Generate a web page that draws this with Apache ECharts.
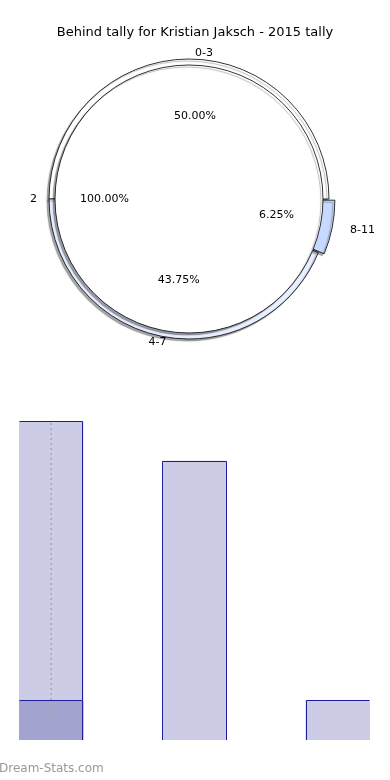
<!DOCTYPE html>
<html><head><meta charset="utf-8">
<script src="https://cdn.jsdelivr.net/npm/echarts@6/dist/echarts.min.js"></script>
<style>html,body{margin:0;padding:0;background:#fff}#c{width:390px;height:780px}</style>
</head><body><div id="c"></div>
<script>
// ---- data ----
const titleText = 'Behind tally for Kristian Jaksch - 2015 tally';
const innerNames = ['2'];
const innerValues = [16];
const ringNames = ['0-3', '4-7', '8-11'];
const ringValues = [8, 7, 1];
const explodedName = '8-11';
const barX = [0, 1, 2];          // category index of each bar (0-3, 4-7, 8-11)
const barValues = [8, 7, 1];
const overlayX = [0];
const overlayValues = [1];
const dottedX = [0, 0];
const dottedValues = [0, 8];
const watermarkText = 'Dream-Stats.com';

// ---- styles ----
const FONT = 'DejaVu Sans';
const ringColors = ['#ffffff', '#e6eeff', '#c6d9ff'];
const nameLineLength = { '0-3': 6, '4-7': 6, '8-11': 18 };
const barFill = '#ccccE6';
const overlayFill = '#a3a3d0';
const barEdge = '#1e1e9a';
const BAR_HALF = 0.225;
const X_MIN = -0.225, X_MAX = 2.225;
const pieShadow = { shadowColor: 'rgba(0,0,0,0.35)', shadowBlur: 1, shadowOffsetX: -2, shadowOffsetY: 2 };

const chart = echarts.init(document.getElementById('c'), null, { renderer: 'canvas' });

const pct = p => p.percent.toFixed(2) + '%';
const mk = (names, values, extra) => names.map((n, i) => Object.assign({ name: n, value: values[i] }, extra ? extra(n, i) : {}));

function barRenderer(fill) {
  return function (params, api) {
    const x = api.value(0), v = api.value(1);
    const tl = api.coord([x - BAR_HALF, v]);
    const br = api.coord([x + BAR_HALF, 0]);
    const l = Math.round(tl[0]) + 0.5, r = Math.round(br[0]) - 0.5, t = Math.round(tl[1]) + 0.5, b = br[1];
    const edge = { stroke: barEdge, lineWidth: 1 };
    const children = [
      { type: 'rect', shape: { x: tl[0], y: tl[1], width: br[0] - tl[0], height: br[1] - tl[1] }, style: { fill: fill } },
      { type: 'line', shape: { x1: l, y1: t, x2: r, y2: t }, style: edge }
    ];
    if (x - BAR_HALF > X_MIN + 1e-6) children.push({ type: 'line', shape: { x1: l, y1: t, x2: l, y2: b }, style: edge });
    if (x + BAR_HALF < X_MAX - 1e-6) children.push({ type: 'line', shape: { x1: r, y1: t, x2: r, y2: b }, style: edge });
    return { type: 'group', children: children };
  };
}

const labelBase = { color: '#000', fontSize: 11, fontFamily: FONT };
const clear = { color: 'rgba(0,0,0,0)', borderWidth: 0 };
const PIE_C = [189, 199];
const LBL_C = [195, 199];

chart.setOption({
  animation: false,
  backgroundColor: '#fff',
  title: { text: titleText, left: 'center', top: 21, textStyle: { fontFamily: FONT, fontSize: 13, fontWeight: 'normal', color: '#000' } },
  grid: { left: 19, right: 20, top: 405, bottom: 40 },
  xAxis: { type: 'value', min: X_MIN, max: X_MAX, show: false },
  yAxis: { type: 'value', min: 0, max: 8.4, show: false },
  graphic: [{ type: 'text', left: -1, top: 763, style: { text: watermarkText, fill: '#999999', font: '12px "DejaVu Sans"' } }],
  series: [
    {
      type: 'pie', center: PIE_C, radius: [0, 140], startAngle: 0, clockwise: false,
      avoidLabelOverlap: false, selectedMode: 'single', selectedOffset: 6, silent: true,
      label: { show: false }, labelLine: { show: false }, emphasis: { disabled: true },
      itemStyle: Object.assign({ borderColor: '#000', borderWidth: 0.8 }, pieShadow),
      data: mk(ringNames, ringValues, (n, i) => ({ selected: n === explodedName, itemStyle: { color: ringColors[i] } }))
    },
    {
      type: 'pie', center: PIE_C, radius: [0, 134], startAngle: 0, clockwise: false,
      avoidLabelOverlap: false, silent: true,
      label: { show: false }, labelLine: { show: false }, emphasis: { disabled: true },
      itemStyle: Object.assign({ color: '#ffffff', borderColor: '#000', borderWidth: 0.8 }, pieShadow),
      data: mk(innerNames, innerValues)
    },
    {
      type: 'pie', center: LBL_C, radius: [0, 160], startAngle: 0, clockwise: false,
      avoidLabelOverlap: false, silent: true, emphasis: { disabled: true },
      itemStyle: clear, labelLine: { show: false },
      label: Object.assign({ position: 'inside', formatter: pct }, labelBase),
      data: mk(ringNames, ringValues)
    },
    {
      type: 'pie', center: LBL_C, radius: [0, 175], startAngle: 0, clockwise: false,
      avoidLabelOverlap: false, silent: true, emphasis: { disabled: true },
      itemStyle: clear, labelLine: { show: false },
      label: Object.assign({ position: 'inside', formatter: pct }, labelBase),
      data: mk(innerNames, innerValues)
    },
    {
      type: 'pie', center: LBL_C, radius: [0, 140], startAngle: 0, clockwise: false,
      avoidLabelOverlap: false, silent: true, emphasis: { disabled: true },
      itemStyle: clear, labelLine: { show: false, length: 6, length2: 0 },
      label: Object.assign({ position: 'outside', formatter: '{b}', distanceToLabelLine: 0 }, labelBase),
      data: mk(ringNames, ringValues, n => ({ labelLine: { show: false, length: nameLineLength[n], length2: 0 } }))
    },
    {
      type: 'pie', center: LBL_C, radius: [0, 140], startAngle: 0, clockwise: false,
      avoidLabelOverlap: false, silent: true, emphasis: { disabled: true },
      itemStyle: clear, labelLine: { show: false, length: 18, length2: 0 },
      label: Object.assign({ position: 'outside', formatter: '{b}', distanceToLabelLine: 0 }, labelBase),
      data: mk(innerNames, innerValues)
    },
    {
      type: 'custom', clip: true, silent: true, renderItem: barRenderer(barFill),
      encode: { x: 0, y: 1 }, data: barX.map((x, i) => [x, barValues[i]])
    },
    {
      type: 'custom', clip: true, silent: true, renderItem: barRenderer(overlayFill),
      encode: { x: 0, y: 1 }, data: overlayX.map((x, i) => [x, overlayValues[i]])
    },
    {
      type: 'line', silent: true, symbol: 'none', clip: true,
      lineStyle: { type: [2, 3], color: '#a8a8a8', width: 1.6 },
      data: dottedX.map((x, i) => [x, dottedValues[i]])
    }
  ]
});
</script></body></html>
